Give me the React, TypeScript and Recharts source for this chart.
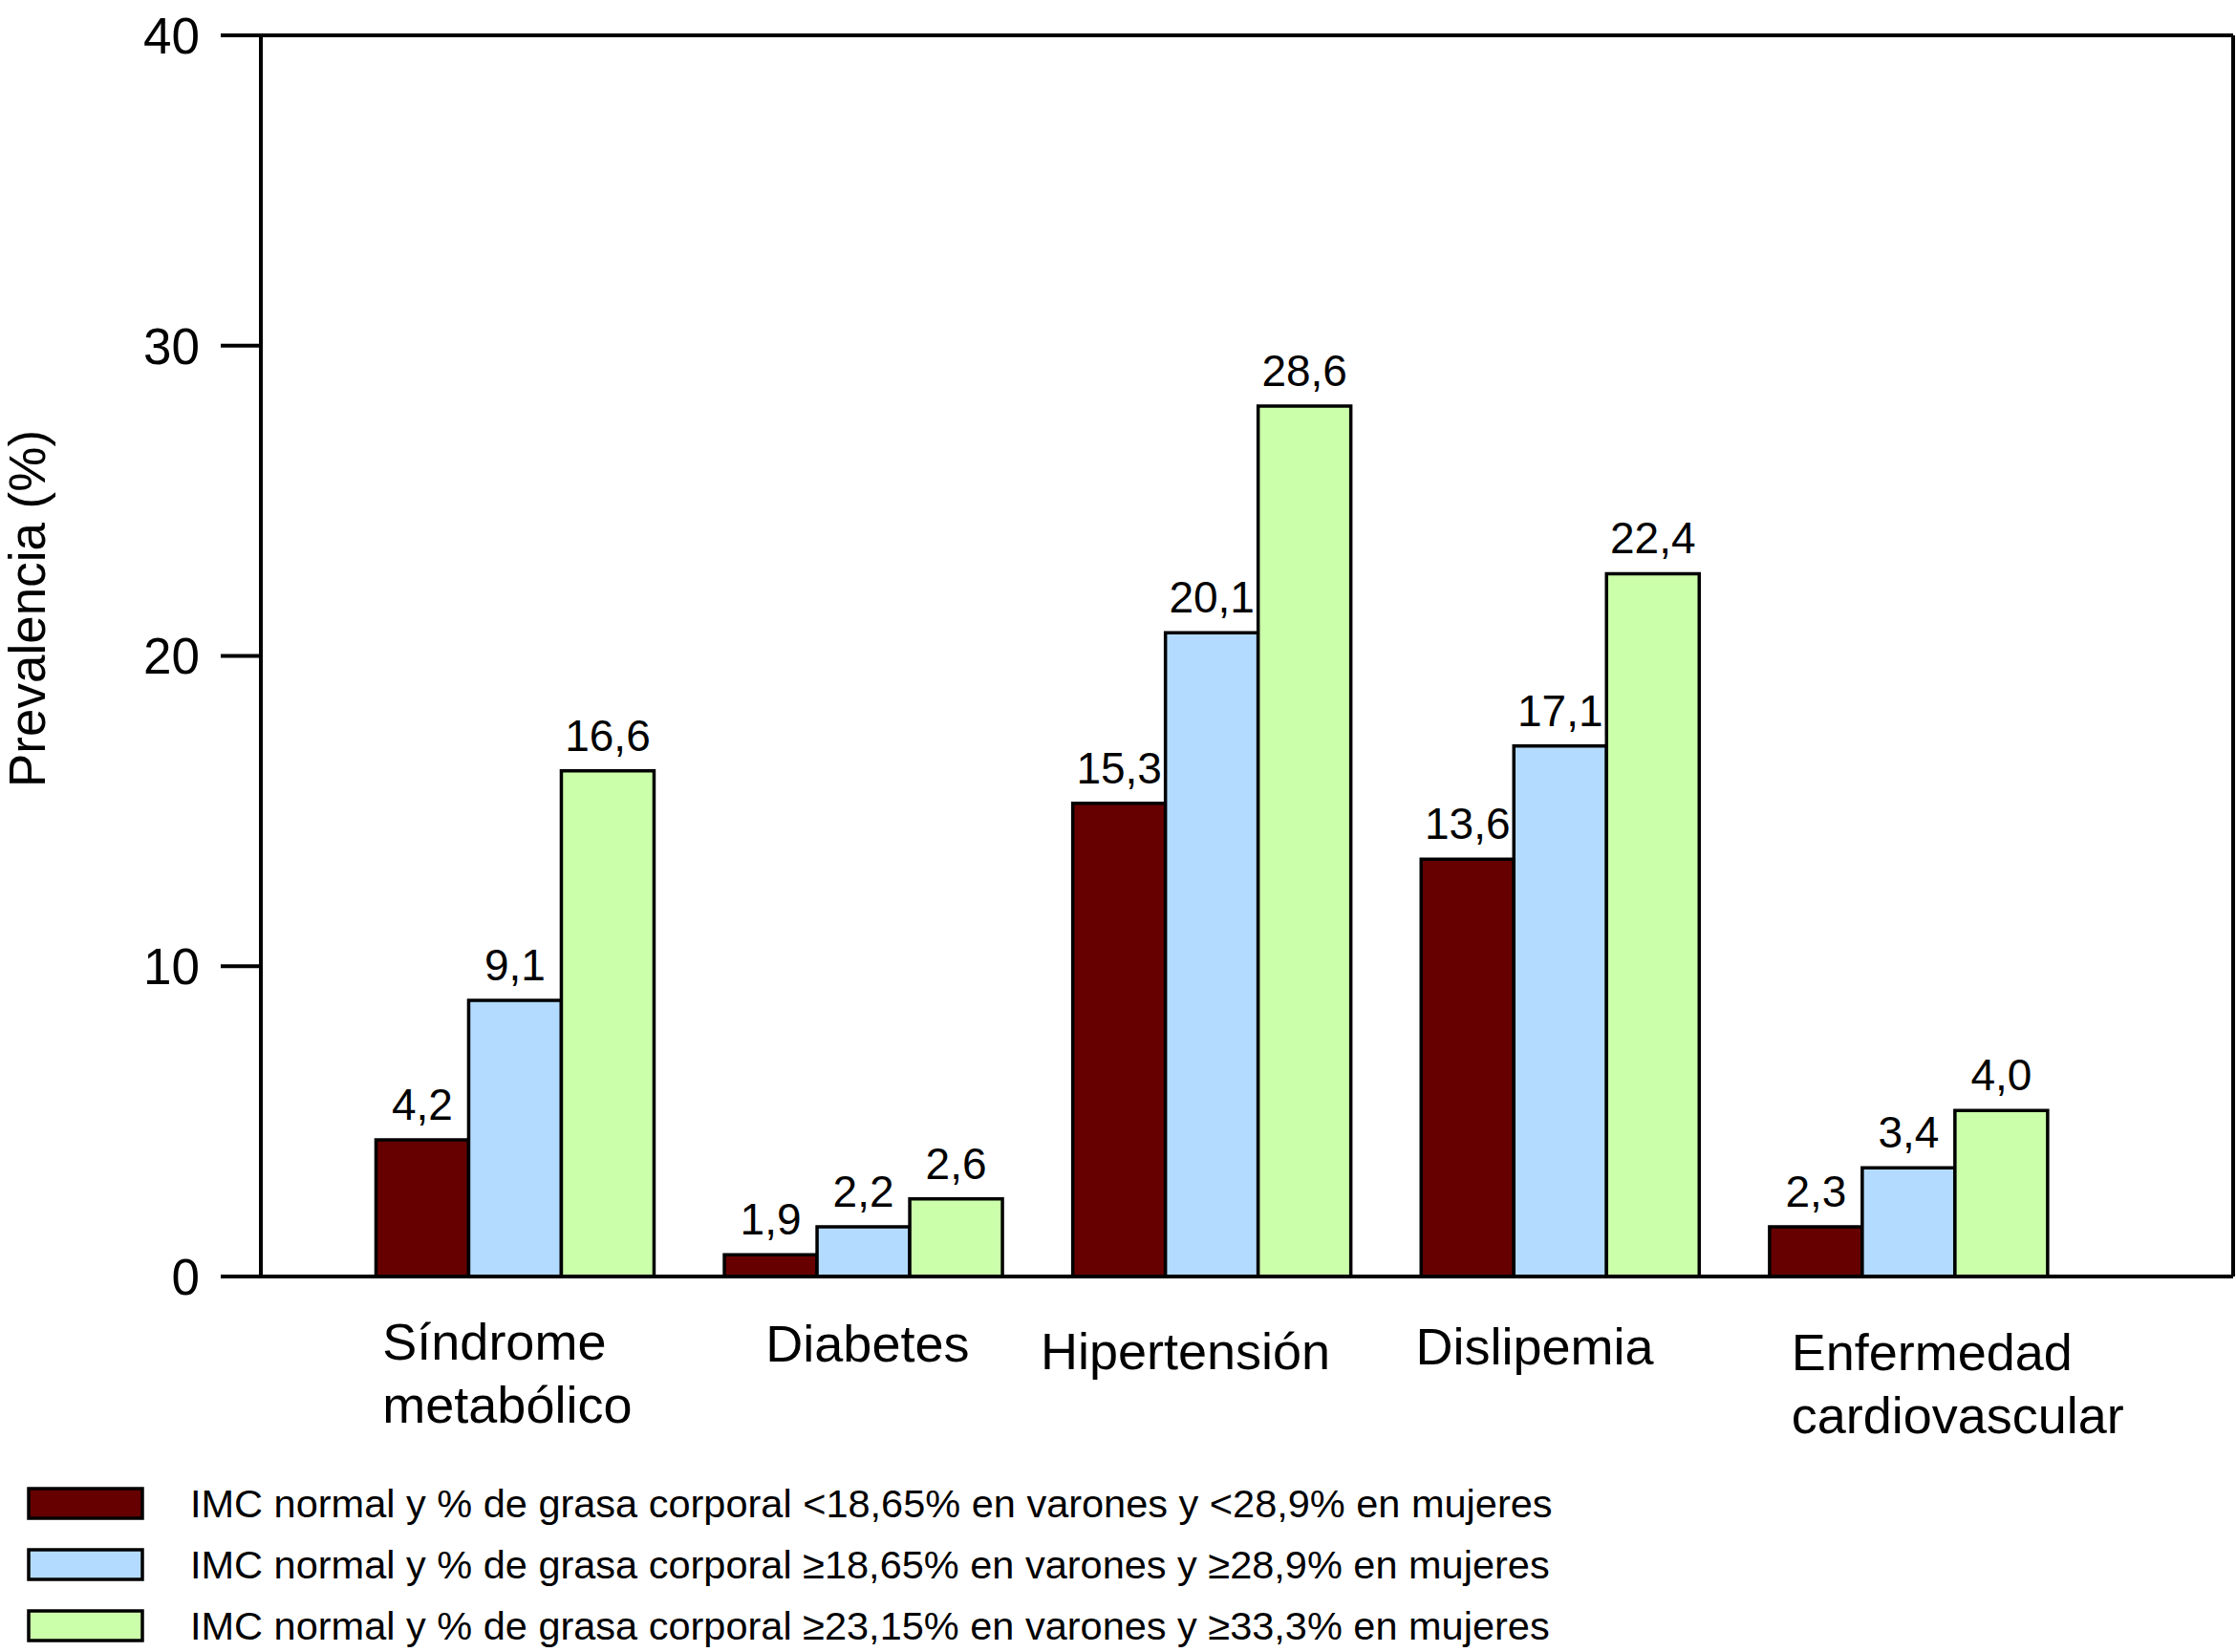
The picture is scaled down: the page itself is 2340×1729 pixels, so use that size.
import React from 'react';
import { BarChart, Bar, XAxis, YAxis, ReferenceLine, LabelList } from 'recharts';

// Categories (one entry per group, split into the lines shown under the axis)
const categoryLines = [
  ['Síndrome', 'metabólico'],
  ['Diabetes'],
  ['Hipertensión'],
  ['Dislipemia'],
  ['Enfermedad', 'cardiovascular'],
];

// Bar heights as drawn in the figure
const normalLowFat = [4.4, 0.7, 15.25, 13.45, 1.6];
const normalHighFat = [8.9, 1.6, 20.75, 17.1, 3.5];
const normalVeryHighFat = [16.3, 2.5, 28.05, 22.65, 5.35];

// Value labels printed above each bar
const normalLowFatLabels = ['4,2', '1,9', '15,3', '13,6', '2,3'];
const normalHighFatLabels = ['9,1', '2,2', '20,1', '17,1', '3,4'];
const normalVeryHighFatLabels = ['16,6', '2,6', '28,6', '22,4', '4,0'];

const yTicks = [0, 10, 20, 30, 40];

const seriesNames = [
  'IMC normal y % de grasa corporal <18,65% en varones y <28,9% en mujeres',
  'IMC normal y % de grasa corporal ≥18,65% en varones y ≥28,9% en mujeres',
  'IMC normal y % de grasa corporal ≥23,15% en varones y ≥33,3% en mujeres',
];

const colors = ['#660000', '#b3dbff', '#ccffaa'];
const FONT = '"Liberation Sans", Arial, Helvetica, sans-serif';

const data = categoryLines.map((lines, i) => ({
  name: lines.join(' '),
  a: normalLowFat[i],
  b: normalHighFat[i],
  c: normalVeryHighFat[i],
}));

// label placement tweaks for the category names (relative to group centre / axis line)
const tickLayout = [
  { dx: -139, dy: 88, anchor: 'start' },
  { dx: 4, dy: 90, anchor: 'middle' },
  { dx: -28, dy: 98, anchor: 'middle' },
  { dx: -27, dy: 93, anchor: 'middle' },
  { dx: -123, dy: 99, anchor: 'start' },
];

const AXIS_Y = 1335;

const CategoryTick = (props: any) => {
  const { x, payload } = props;
  const i = payload.index;
  const l = tickLayout[i];
  return (
    <text x={x + l.dx} y={AXIS_Y + l.dy} textAnchor={l.anchor} fontSize={54} fontFamily={FONT} fill="#000">
      {categoryLines[i].map((line, k) => (
        <tspan key={k} x={x + l.dx} dy={k === 0 ? 0 : 66}>{line}</tspan>
      ))}
    </text>
  );
};

const makeValueLabel = (labels: string[]) => (props: any) => {
  const { x, y, width, index } = props;
  return (
    <text x={x + width / 2} y={y - 21} textAnchor="middle" fontSize={46} fontFamily={FONT} fill="#000">
      {labels[index]}
    </text>
  );
};

const LegendBlock = () => (
  <svg width={1700} height={190} style={{ position: 'absolute', left: 0, top: 1545 }}>
    {seriesNames.map((n, i) => (
      <g key={n}>
        <rect x={30} y={13 + 64 * i} width={119} height={31} fill={colors[i]} stroke="#000" strokeWidth={3.5} />
        <text x={199} y={43 + 64 * i} fontSize={41.5} fontFamily={FONT} fill="#000">{n}</text>
      </g>
    ))}
  </svg>
);

const YLabel = () => (
  <text
    x={47}
    y={637}
    transform="rotate(-90, 47, 637)"
    textAnchor="middle"
    fontSize={53}
    fontFamily={FONT}
    fill="#000"
  >
    Prevalencia (%)
  </text>
);

export default function App() {
  return (
    <div style={{ width: 2340, height: 1729, background: '#fff', position: 'relative' }}>
      <style>{'body{margin:0;background:#fff}'}</style>
      <BarChart
        width={2340}
        height={1729}
        data={data}
        margin={{ top: 37, right: 2, bottom: 333, left: 0 }}
        barCategoryGap="10%"
        barGap={0}
      >
        <XAxis
          dataKey="name"
          padding={{ left: 84, right: 157 }}
          axisLine={{ stroke: '#000', strokeWidth: 4 }}
          tickLine={false}
          tickSize={0}
          tickMargin={0}
          tick={<CategoryTick />}
          interval={0}
          height={60}
        />
        <YAxis
          domain={[0, 40]}
          ticks={yTicks}
          width={273}
          allowDataOverflow
          axisLine={{ stroke: '#000', strokeWidth: 4 }}
          tickLine={{ stroke: '#000', strokeWidth: 4 }}
          tickSize={42}
          tickMargin={22}
          tick={{ fontSize: 53, fontFamily: FONT, fill: '#000' }}
          label={{ content: () => <YLabel /> }}
        />
        <YAxis
          yAxisId="r"
          orientation="right"
          width={1}
          domain={[0, 40]}
          tick={false}
          tickLine={false}
          axisLine={{ stroke: '#000', strokeWidth: 4 }}
        />
        <ReferenceLine y={40} stroke="#000" strokeWidth={4} />
        <Bar dataKey="a" fill={colors[0]} stroke="#000" strokeWidth={3.5} isAnimationActive={false}>
          <LabelList dataKey="a" content={makeValueLabel(normalLowFatLabels)} />
        </Bar>
        <Bar dataKey="b" fill={colors[1]} stroke="#000" strokeWidth={3.5} isAnimationActive={false}>
          <LabelList dataKey="b" content={makeValueLabel(normalHighFatLabels)} />
        </Bar>
        <Bar dataKey="c" fill={colors[2]} stroke="#000" strokeWidth={3.5} isAnimationActive={false}>
          <LabelList dataKey="c" content={makeValueLabel(normalVeryHighFatLabels)} />
        </Bar>
      </BarChart>
      <LegendBlock />
    </div>
  );
}
